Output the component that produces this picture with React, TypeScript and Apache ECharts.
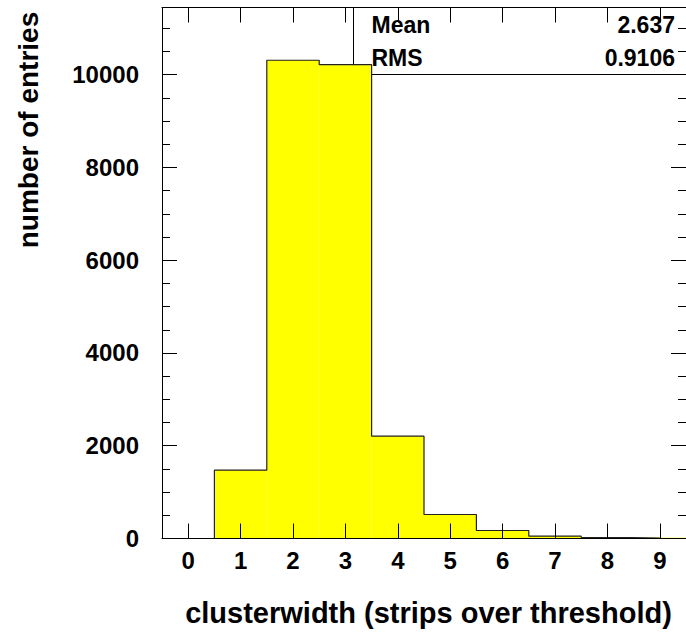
import React, { useEffect, useRef } from "react";
import * as echarts from "echarts";

const categories = ["0", "1", "2", "3", "4", "5", "6", "7", "8", "9"];
const counts = [0, 1474, 10313, 10218, 2207, 518, 173, 50, 20, 8];
const yMin = 0;
const yMax = 11450;
const yMajor = 2000;
const yMinor = 500;
const statNames = ["Mean", "RMS"];
const statValues = ["2.637", "0.9106"];
const xTitle = "clusterwidth (strips over threshold)";
const yTitle = "number of entries";

const FONT = "'Liberation Sans', Arial, Helvetica, sans-serif";

export default function App() {
  const ref = useRef<HTMLDivElement>(null);
  useEffect(() => {
    if (!ref.current) return;
    const chart = echarts.init(ref.current, null, { renderer: "svg" });
    const gridLeft = 162;
    const gridTop = 7.5;
    const gridW = 532;
    const gridH = 531;
    const tickColor = "#000";
    const baseY = {
      type: "value" as const,
      min: yMin,
      max: yMax,
      splitLine: { show: false },
      z: 10,
    };
    const option: any = {
      animation: false,
      backgroundColor: "#fff",
      grid: { left: gridLeft, top: gridTop, width: gridW, height: gridH, containLabel: false },
      xAxis: [
        {
          type: "category",
          data: categories,
          position: "bottom",
          boundaryGap: true,
          z: 10,
          axisLine: { show: true, onZero: false, lineStyle: { color: "#000", width: 1 } },
          axisTick: { show: true, inside: true, length: 15, alignWithLabel: true, interval: 0, lineStyle: { color: tickColor } },
          axisLabel: {
            show: true,
            interval: 0,
            margin: 10,
            color: "#000",
            fontSize: 24,
            fontWeight: "bold",
            fontFamily: FONT,
          },
          splitLine: { show: false },
        },
        {
          type: "category",
          data: categories,
          position: "top",
          boundaryGap: true,
          z: 10,
          axisLine: { show: true, onZero: false, lineStyle: { color: "#000", width: 1 } },
          axisTick: { show: true, inside: true, length: 15, alignWithLabel: true, interval: 0, lineStyle: { color: tickColor } },
          axisLabel: { show: false },
          splitLine: { show: false },
        },
      ],
      yAxis: [
        {
          ...baseY,
          position: "left",
          interval: yMajor,
          axisLine: { show: true, onZero: false, lineStyle: { color: "#000", width: 1 } },
          axisTick: { show: true, inside: true, length: 15, lineStyle: { color: tickColor } },
          axisLabel: {
            show: true,
            margin: 23,
            showMaxLabel: false,
            formatter: (v: number) => String(v),
            color: "#000",
            fontSize: 24,
            fontWeight: "bold",
            fontFamily: FONT,
          },
        },
        {
          ...baseY,
          position: "left",
          interval: yMinor,
          axisLine: { show: false },
          axisTick: { show: true, inside: true, length: 8, lineStyle: { color: tickColor } },
          axisLabel: { show: false },
        },
        {
          ...baseY,
          position: "right",
          interval: yMajor,
          axisLine: { show: true, onZero: false, lineStyle: { color: "#000", width: 1 } },
          axisTick: { show: true, inside: true, length: 15, lineStyle: { color: tickColor } },
          axisLabel: { show: false },
        },
        {
          ...baseY,
          position: "right",
          interval: yMinor,
          axisLine: { show: false },
          axisTick: { show: true, inside: true, length: 8, lineStyle: { color: tickColor } },
          axisLabel: { show: false },
        },
      ],
      series: [
        {
          type: "bar",
          data: counts,
          xAxisIndex: 0,
          yAxisIndex: 0,
          barWidth: "100%",
          barCategoryGap: 0,
          itemStyle: { color: "#ffff00", borderColor: "#ffff00", borderWidth: 1 },
          z: 2,
        },
        {
          type: "line",
          data: counts,
          xAxisIndex: 0,
          yAxisIndex: 0,
          step: "middle",
          symbol: "none",
          lineStyle: { color: "#222", width: 1.2 },
          z: 3,
        },
      ],
      graphic: [
        {
          type: "rect",
          z: 1,
          shape: { x: 353.5, y: 7.5, width: 400, height: 67 },
          style: { fill: "none", stroke: "#000", lineWidth: 1 },
        },
        ...statNames.map((name, i) => ({
          type: "text",
          z: 100,
          x: 371.5,
          y: 25 + i * 33,
          style: {
            text: name,
            fill: "#000",
            font: `bold 23px ${FONT}`,
            textAlign: "left",
            textVerticalAlign: "middle",
          },
        })),
        ...statValues.map((v, i) => ({
          type: "text",
          z: 100,
          x: 675,
          y: 25 + i * 33,
          style: {
            text: v,
            fill: "#000",
            font: `bold 23px ${FONT}`,
            textAlign: "right",
            textVerticalAlign: "middle",
          },
        })),
        {
          type: "text",
          z: 100,
          x: 428.5,
          y: 613,
          style: {
            text: xTitle,
            fill: "#000",
            font: `bold 29px ${FONT}`,
            textAlign: "center",
            textVerticalAlign: "middle",
          },
        },
        {
          type: "text",
          z: 100,
          x: 28,
          y: 130,
          rotation: Math.PI / 2,
          style: {
            text: yTitle,
            fill: "#000",
            font: `bold 28px ${FONT}`,
            textAlign: "center",
            textVerticalAlign: "middle",
          },
        },
      ],
    };
    chart.setOption(option);
    return () => chart.dispose();
  }, []);
  return (
    <div style={{ position: "fixed", left: 0, top: 0, width: 686, height: 632, overflow: "hidden", background: "#fff" }}>
      <div ref={ref} style={{ width: 686, height: 632 }} />
    </div>
  );
}
